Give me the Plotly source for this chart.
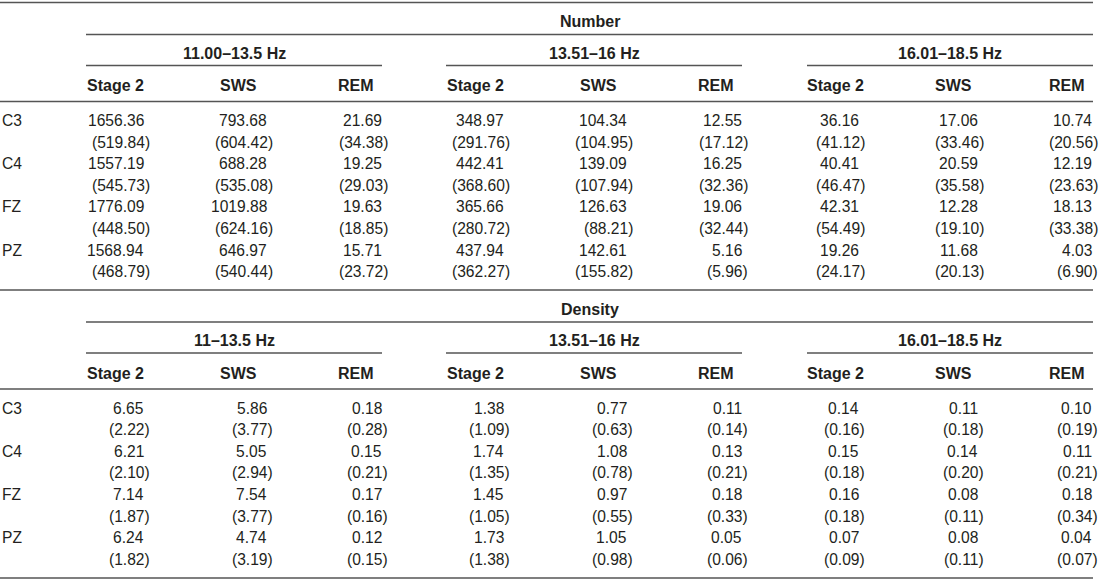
import plotly.graph_objects as go

electrodes = ["C3", "C4", "FZ", "PZ"]
stages = ["Stage 2", "SWS", "REM"]
number_bands = ["11.00–13.5 Hz", "13.51–16 Hz", "16.01–18.5 Hz"]
density_bands = ["11–13.5 Hz", "13.51–16 Hz", "16.01–18.5 Hz"]

# mean per electrode, columns = band x stage
number_mean = [
    [1656.36, 793.68, 21.69, 348.97, 104.34, 12.55, 36.16, 17.06, 10.74],
    [1557.19, 688.28, 19.25, 442.41, 139.09, 16.25, 40.41, 20.59, 12.19],
    [1776.09, 1019.88, 19.63, 365.66, 126.63, 19.06, 42.31, 12.28, 18.13],
    [1568.94, 646.97, 15.71, 437.94, 142.61, 5.16, 19.26, 11.68, 4.03],
]
number_sd = [
    [519.84, 604.42, 34.38, 291.76, 104.95, 17.12, 41.12, 33.46, 20.56],
    [545.73, 535.08, 29.03, 368.60, 107.94, 32.36, 46.47, 35.58, 23.63],
    [448.50, 624.16, 18.85, 280.72, 88.21, 32.44, 54.49, 19.10, 33.38],
    [468.79, 540.44, 23.72, 362.27, 155.82, 5.96, 24.17, 20.13, 6.90],
]
density_mean = [
    [6.65, 5.86, 0.18, 1.38, 0.77, 0.11, 0.14, 0.11, 0.10],
    [6.21, 5.05, 0.15, 1.74, 1.08, 0.13, 0.15, 0.14, 0.11],
    [7.14, 7.54, 0.17, 1.45, 0.97, 0.18, 0.16, 0.08, 0.18],
    [6.24, 4.74, 0.12, 1.73, 1.05, 0.05, 0.07, 0.08, 0.04],
]
density_sd = [
    [2.22, 3.77, 0.28, 1.09, 0.63, 0.14, 0.16, 0.18, 0.19],
    [2.10, 2.94, 0.21, 1.35, 0.78, 0.21, 0.18, 0.20, 0.21],
    [1.87, 3.77, 0.16, 1.05, 0.55, 0.33, 0.18, 0.11, 0.34],
    [1.82, 3.19, 0.15, 1.38, 0.98, 0.06, 0.09, 0.11, 0.07],
]

# layout (pixel-ish coordinates on a 1100 x 581 canvas)
W, H = 1100, 581
FONT = "Liberation Sans, Arial, sans-serif"
TXT = "#231f20"
LINE = "#555555"
num_right = [144, 267, 382, 504, 627, 742, 859, 978, 1092]
paren_shift = 5.5
group_span = [(86, 382), (446, 742), (807, 1093)]
hdr_pos = [(144, "right"), (238, "center"), (374, "right"),
           (504, "right"), (598, "center"), (734, "right"),
           (864, "right"), (953, "center"), (1085, "right")]
row_step = 21.6

fig = go.Figure()


def text(x, y, s, anchor="center", bold=False, size=15.6):
    fig.add_annotation(x=x, y=y, text=f"<b>{s}</b>" if bold else s, showarrow=False,
                       xanchor=anchor, yanchor="middle", xref="x", yref="y",
                       borderpad=0, borderwidth=0,
                       font=dict(family=FONT, size=16 if bold else size, color=TXT))


def hline(x0, x1, y):
    fig.add_shape(type="line", x0=x0, x1=x1, y0=y, y1=y, xref="x", yref="y",
                  line=dict(color=LINE, width=1.4))


def section(title, bands, means, sds, y_top):
    hline(0, 1093, y_top)
    text(590, y_top + 19, title, bold=True)
    hline(86, 1093, y_top + 32)
    for (x0, x1), b in zip(group_span, bands):
        text((x0 + x1) / 2, y_top + 51 if y_top < 100 else y_top + 50, b, bold=True)
        hline(x0, x1, y_top + 63)
    for i, (x, anc) in enumerate(hdr_pos):
        text(x, y_top + 83, stages[i % 3], anchor=anc, bold=True)
    hline(0, 1093, y_top + 99)
    y0 = y_top + 118
    for r, el in enumerate(electrodes):
        ym = y0 + 2 * r * row_step
        ys = ym + row_step
        text(2, ym, el, anchor="left")
        for c in range(9):
            text(num_right[c], ym, f"{means[r][c]:.2f}", anchor="right")
            text(num_right[c] + paren_shift, ys, f"({sds[r][c]:.2f})", anchor="right")


section("Number", number_bands, number_mean, number_sd, 2.5)
section("Density", density_bands, density_mean, density_sd, 290)
hline(0, 1093, 578)

fig.update_layout(
    width=W, height=H,
    margin=dict(l=0, r=0, t=0, b=0),
    paper_bgcolor="white", plot_bgcolor="white",
    xaxis=dict(range=[0, W], visible=False, fixedrange=True),
    yaxis=dict(range=[H, 0], visible=False, fixedrange=True),
    showlegend=False,
)
# drop the browser's default 8px body margin so the canvas sits at the corner
fig.write_html("out.html", config={"displayModeBar": False},
               post_script="document.body.style.margin='0px';document.body.style.overflow='hidden';")
